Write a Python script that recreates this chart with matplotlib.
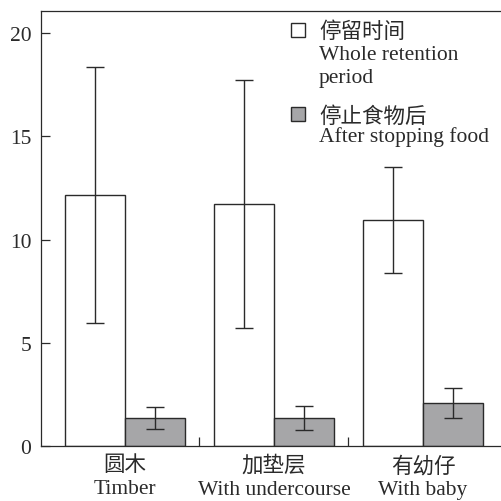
import numpy as np
import matplotlib
matplotlib.use("Agg")
import matplotlib.pyplot as plt
from matplotlib.patches import Rectangle

plt.rcParams['font.family'] = ['Liberation Serif', 'Noto Sans CJK SC', 'DejaVu Sans']

# data
groups_cn = ['圆木', '加垫层', '有幼仔']
groups_en = ['Timber', 'With undercourse', 'With baby']
whole = [12.17, 11.72, 10.96]
whole_err = [6.2, 6.0, 2.58]
after = [1.34, 1.35, 2.06]
after_err = [0.54, 0.59, 0.73]

ink = '#2a2a2a'
gray = '#a6a6a8'
fs = 15.5

fig = plt.figure(figsize=(5.02, 5.02), dpi=100)
ax = fig.add_axes([41 / 502, 55.3 / 502, 461 / 502, 435 / 502])

x = np.arange(len(groups_cn))
w = 0.4
ekw = dict(ecolor=ink, elinewidth=1.0, capsize=6.5, capthick=1.0)
ax.bar(x - w / 2, whole, w, yerr=whole_err, color='white', edgecolor=ink,
       linewidth=1.0, error_kw=ekw, zorder=2)
ax.bar(x + w / 2, after, w, yerr=after_err, color=gray, edgecolor=ink,
       linewidth=1.0, error_kw=ekw, zorder=2)

ax.set_xlim(-0.563, 2.53)
ax.set_ylim(0, 21.1)
ax.set_yticks([0, 5, 10, 15, 20])
ax.set_xticks(x)
ax.set_xticklabels([c + '\n' + e for c, e in zip(groups_cn, groups_en)],
                   fontsize=fs, color=ink, linespacing=1.3)
ax.set_xticks([0.5, 1.5], minor=True)
ax.tick_params(axis='x', which='major', length=0, pad=7)
ax.tick_params(axis='x', which='minor', direction='in', length=6.5, width=0.9, color=ink)
ax.tick_params(axis='y', direction='in', length=6.5, width=0.9, color=ink,
               labelsize=fs, labelcolor=ink, pad=7)

for s in ['left', 'bottom', 'top']:
    ax.spines[s].set_color(ink)
    ax.spines[s].set_linewidth(0.9)
ax.spines['right'].set_visible(False)

# legend drawn by hand so the boxes sit on the first line of each label
box_w, box_h = 14.3 / 461, 14.3 / 435
ax.add_patch(Rectangle((0.5416, 0.9389), box_w, box_h, transform=ax.transAxes,
                       facecolor='white', edgecolor=ink, linewidth=1.0, clip_on=False))
ax.add_patch(Rectangle((0.5423, 0.7457), box_w, box_h, transform=ax.transAxes,
                       facecolor=gray, edgecolor=ink, linewidth=1.0, clip_on=False))
tx = 0.603
ax.text(tx, 0.953, '停留时间', transform=ax.transAxes, fontsize=fs, color=ink, va='center')
ax.text(tx, 0.889, 'Whole retention', transform=ax.transAxes, fontsize=fs, color=ink, va='baseline')
ax.text(tx, 0.836, 'period', transform=ax.transAxes, fontsize=fs, color=ink, va='baseline')
ax.text(tx, 0.756, '停止食物后', transform=ax.transAxes, fontsize=fs, color=ink, va='center')
ax.text(tx, 0.7005, 'After stopping food', transform=ax.transAxes, fontsize=fs, color=ink, va='baseline')

fig.savefig('out.png', dpi=100)
